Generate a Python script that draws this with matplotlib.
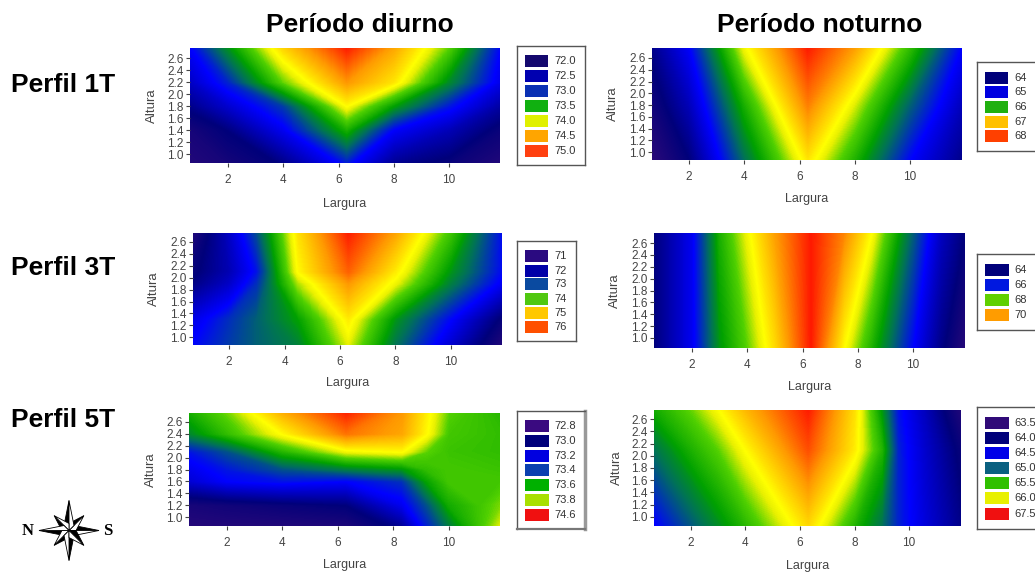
#!/bin/python3

# library imports
import numpy as np
import matplotlib
matplotlib.use('Agg')
import matplotlib.pyplot as plt
from matplotlib.colors import LinearSegmentedColormap
from matplotlib.patches import Polygon

plt.rcParams['font.family'] = ['Liberation Sans', 'DejaVu Sans']

W, H = 1035, 572

# temperature grids, one list per height row (bottom to top)
d1_x = [0.6, 2, 4, 6.3, 8, 10, 11.9]
d1_y = [0.8, 1.4, 1.8, 2.2, 2.8]
d1_z = [[71.9, 72.0, 72.2, 72.8, 72.25, 72.1, 71.9],
        [72.0, 72.2, 72.7, 73.55, 72.75, 72.45, 72.1],
        [72.25, 72.55, 73.0, 74.1, 73.45, 72.85, 72.35],
        [72.5, 72.9, 73.8, 74.55, 74.2, 73.35, 72.65],
        [72.75, 73.4, 74.3, 75.0, 74.5, 73.8, 72.75]]

n1_x = [0.6, 2, 4, 6.3, 8, 10, 11.9]
n1_y = [0.8, 1.8, 2.8]
n1_z = [[63.6, 64.1, 65.5, 66.85, 66.0, 64.9, 64.2],
        [63.9, 64.5, 66.0, 67.5, 66.6, 65.45, 64.5],
        [64.2, 64.9, 66.7, 68.0, 67.35, 66.15, 64.9]]

d3_x = [0.6, 2, 3, 4.5, 6.3, 8, 10, 11.9]
d3_y = [0.8, 1.3, 1.9, 2.1, 2.8]
d3_z = [[72.5, 72.9, 73.15, 73.4, 74.6, 73.25, 72.05, 70.9],
        [72.25, 72.8, 73.15, 73.7, 74.95, 73.6, 72.5, 71.35],
        [71.5, 72.05, 72.8, 74.5, 75.6, 74.7, 73.4, 72.35],
        [71.35, 71.9, 72.6, 74.85, 75.95, 74.95, 73.6, 72.5],
        [70.9, 72.05, 73.05, 75.05, 76.4, 75.55, 74.15, 72.5]]

n3_x = [0.6, 2, 3, 4, 5, 6.3, 7.5, 8.5, 10, 11, 11.9]
n3_y = [0.8, 2.8]
n3_z = [[63.95, 65.25, 67.0, 67.95, 69.1, 71.0, 68.75, 67.4, 65.4, 64.1, 63.15],
        [63.95, 65.25, 67.4, 68.6, 69.8, 71.0, 70.05, 68.75, 66.35, 64.75, 63.95]]

d5_x = [0.6, 2, 4, 6.3, 8.3, 9.2, 10, 11.9]
d5_y = [0.8, 1.2, 1.6, 1.8, 2.1, 2.4, 2.8]
d5_z = [[72.84, 72.85, 72.85, 72.87, 73.05, 73.39, 73.61, 74.06],
        [72.91, 72.94, 72.98, 73.02, 73.30, 73.52, 73.77, 73.95],
        [73.23, 73.34, 73.38, 73.34, 73.45, 73.74, 73.88, 73.88],
        [73.29, 73.39, 73.52, 73.63, 73.70, 73.84, 73.88, 73.86],
        [73.38, 73.52, 73.81, 74.06, 74.10, 73.92, 73.86, 73.84],
        [73.66, 73.84, 74.10, 74.42, 74.31, 74.10, 73.88, 73.84],
        [73.79, 73.95, 74.31, 74.60, 74.35, 74.13, 73.92, 73.81]]

n5_x = [0.6, 2, 3, 4, 6.3, 8, 9, 9.6, 10.5, 11.9]
n5_y = [0.8, 2.1, 2.8]
n5_z = [[64.48, 64.98, 65.32, 65.65, 66.49, 65.61, 65.15, 64.73, 64.39, 63.89],
        [65.15, 65.61, 65.9, 66.32, 67.25, 66.41, 65.65, 64.73, 64.31, 63.72],
        [65.57, 65.95, 66.32, 66.74, 67.5, 66.49, 65.4, 64.64, 64.22, 63.43]]

# legend labels and swatch colours
d1_labels = ['72.0', '72.5', '73.0', '73.5', '74.0', '74.5', '75.0']
d1_colors = ['#14086e', '#0000b0', '#0a30b4', '#10b010', '#e0f000', '#ffa500', '#ff4010']
n1_labels = ['64', '65', '66', '67', '68']
n1_colors = ['#00007a', '#0000e0', '#20b010', '#ffc000', '#ff4000']
d3_labels = ['71', '72', '73', '74', '75', '76']
d3_colors = ['#2a0a80', '#0000a8', '#0a4aa0', '#50c810', '#ffc800', '#ff5000']
n3_labels = ['64', '66', '68', '70']
n3_colors = ['#00007a', '#0018e0', '#60d000', '#ff9c00']
d5_labels = ['72.8', '73.0', '73.2', '73.4', '73.6', '73.8', '74.6']
d5_colors = ['#3a0a80', '#00007a', '#0000e0', '#0a40b0', '#00b000', '#a8e000', '#f01010']
n5_labels = ['63.5', '64.0', '64.5', '65.0', '65.5', '66.0', '67.5']
n5_colors = ['#300a78', '#00007a', '#0000e8', '#0a6080', '#30c000', '#e8f000', '#f01010']

x_ticks = [2, 4, 6, 8, 10]
y_ticks = [1.0, 1.2, 1.4, 1.6, 1.8, 2.0, 2.2, 2.4, 2.6]

# same colour ramp for all panels
ramp = LinearSegmentedColormap.from_list('ramp', [
    (0.00, '#2e0a78'), (0.12, '#00007a'), (0.30, '#0000ff'), (0.44, '#00705a'),
    (0.52, '#00a000'), (0.62, '#50d000'), (0.69, '#e8f000'), (0.72, '#ffff00'),
    (0.76, '#ffe000'), (0.86, '#ff9900'), (1.00, '#ff1a00')])

fig = plt.figure(figsize=(W / 100, H / 100), dpi=100)


# make axes from pixel box of the reference
def px_axes(x0, x1, y0, y1):
    return fig.add_axes([x0 / W, 1 - y1 / H, (x1 - x0) / W, (y1 - y0) / H])


def draw_map(box, xlim, ylim, xs, ys, zs, vmin, vmax, xlabel_y, altura_x):
    ax = px_axes(*box)
    levels = np.linspace(vmin - 0.001, vmax + 0.001, 256)
    ax.contourf(xs, ys, zs, levels=levels, cmap=ramp, extend='both', antialiased=False)
    ax.set_xlim(xlim)
    ax.set_ylim(ylim)
    ax.set_xticks(x_ticks)
    ax.set_yticks(y_ticks)
    ax.set_yticklabels([f'{t:.1f}' for t in y_ticks])
    ax.tick_params(labelsize=8.5, length=2.6, width=0.8, pad=2, color='#444444', labelcolor='#444444')
    ax.tick_params(axis='x', pad=5)
    for s in ax.spines.values():
        s.set_visible(False)
    # axis titles placed by pixel
    fig.text((box[0] + box[1]) / 2 / W, 1 - xlabel_y / H, 'Largura', fontsize=9, color='#444444',
             ha='center', va='center')
    fig.text(altura_x / W, 1 - (box[2] + box[3]) / 2 / H, 'Altura', fontsize=9.5, color='#444444',
             rotation=90, ha='center', va='center')
    return ax


def draw_legend(box, swatch, text_x, centers, labels, colors, shadow=False):
    ax = px_axes(*box)
    ax.set_xlim(box[0], box[1])
    ax.set_ylim(box[3], box[2])
    ax.barh(centers, swatch[1] - swatch[0], left=swatch[0], height=12, color=colors)
    for c, label in zip(centers, labels):
        ax.text(text_x, c, label, fontsize=8, color='#333333', va='center', ha='left', clip_on=True)
    ax.set_xticks([])
    ax.set_yticks([])
    for s in ax.spines.values():
        s.set_color('#555555')
        s.set_linewidth(1.0)
    if shadow:
        ax.spines['right'].set_color('#999999')
        ax.spines['right'].set_linewidth(2.5)
        ax.spines['bottom'].set_color('#777777')
        ax.spines['bottom'].set_linewidth(1.6)


# left column
draw_map((190, 500, 48, 163), (0.62, 11.85), (0.85, 2.77), d1_x, d1_y, d1_z, 71.8, 75.0, 204, 152)
draw_map((193, 502, 233, 345), (0.70, 11.84), (0.87, 2.75), d3_x, d3_y, d3_z, 70.8, 76.4, 383, 154)
draw_map((189, 500, 413, 526), (0.63, 11.84), (0.85, 2.75), d5_x, d5_y, d5_z, 72.8, 74.6, 565, 151)

# right column
draw_map((652, 962, 48, 160), (0.66, 11.88), (0.865, 2.77), n1_x, n1_y, n1_z, 63.6, 68.0, 199, 613)
draw_map((654, 965, 233, 348), (0.62, 11.88), (0.83, 2.77), n3_x, n3_y, n3_z, 63.0, 71.0, 387, 615)
draw_map((654, 961, 410, 526), (0.65, 11.90), (0.85, 2.75), n5_x, n5_y, n5_z, 63.3, 67.5, 566, 617)

# legends
draw_legend((517, 585, 46, 165), (525, 548), 554, [61, 76, 91, 106, 121, 136, 151], d1_labels, d1_colors)
draw_legend((517, 576, 241, 341), (525, 548), 554, [256, 271, 284, 299, 313, 327], d3_labels, d3_colors)
draw_legend((517, 585, 411, 529), (525, 549), 554, [426, 441, 456, 470, 485, 500, 515], d5_labels, d5_colors, shadow=True)
draw_legend((977, 1040, 62, 151), (985, 1008), 1014, [78, 92, 107, 122, 136], n1_labels, n1_colors)
draw_legend((977, 1040, 254, 330), (985, 1009), 1014, [270, 285, 300, 315], n3_labels, n3_colors)
draw_legend((977, 1040, 407, 529), (985, 1009), 1014, [423, 438, 453, 468, 483, 498, 514], n5_labels, n5_colors)

# column and row titles
fig.text(360 / W, 1 - 25 / H, 'Período diurno', fontsize=19, fontweight='bold', ha='center', va='center')
fig.text(820 / W, 1 - 25 / H, 'Período noturno', fontsize=19, fontweight='bold', ha='center', va='center')
fig.text(11 / W, 1 - 85 / H, 'Perfil 1T', fontsize=19, fontweight='bold', ha='left', va='center')
fig.text(11 / W, 1 - 268 / H, 'Perfil 3T', fontsize=19, fontweight='bold', ha='left', va='center')
fig.text(11 / W, 1 - 420 / H, 'Perfil 5T', fontsize=19, fontweight='bold', ha='left', va='center')

# compass rose, points drawn half black half white
rose = px_axes(38, 100, 498, 563)
rose.set_xlim(-31, 31)
rose.set_ylim(-32.5, 32.5)
rose.axis('off')
for angle in range(0, 360, 45):
    length = 30 if angle % 90 == 0 else 21
    t = np.deg2rad(angle)
    tip = np.array([np.cos(t), np.sin(t)]) * length
    side = np.array([-np.sin(t), np.cos(t)]) * 5
    base = np.array([np.cos(t), np.sin(t)]) * 5
    rose.add_patch(Polygon([(0, 0), tip, base + side], facecolor='black', edgecolor='black', linewidth=0.6))
    rose.add_patch(Polygon([(0, 0), tip, base - side], facecolor='white', edgecolor='black', linewidth=0.6))
fig.text(28 / W, 1 - 531 / H, 'N', family=['Liberation Serif'], fontsize=12, fontweight='bold', ha='center', va='center')
fig.text(108 / W, 1 - 531 / H, 'S', family=['Liberation Serif'], fontsize=12, fontweight='bold', ha='center', va='center')

fig.savefig('out.png', dpi=100)
